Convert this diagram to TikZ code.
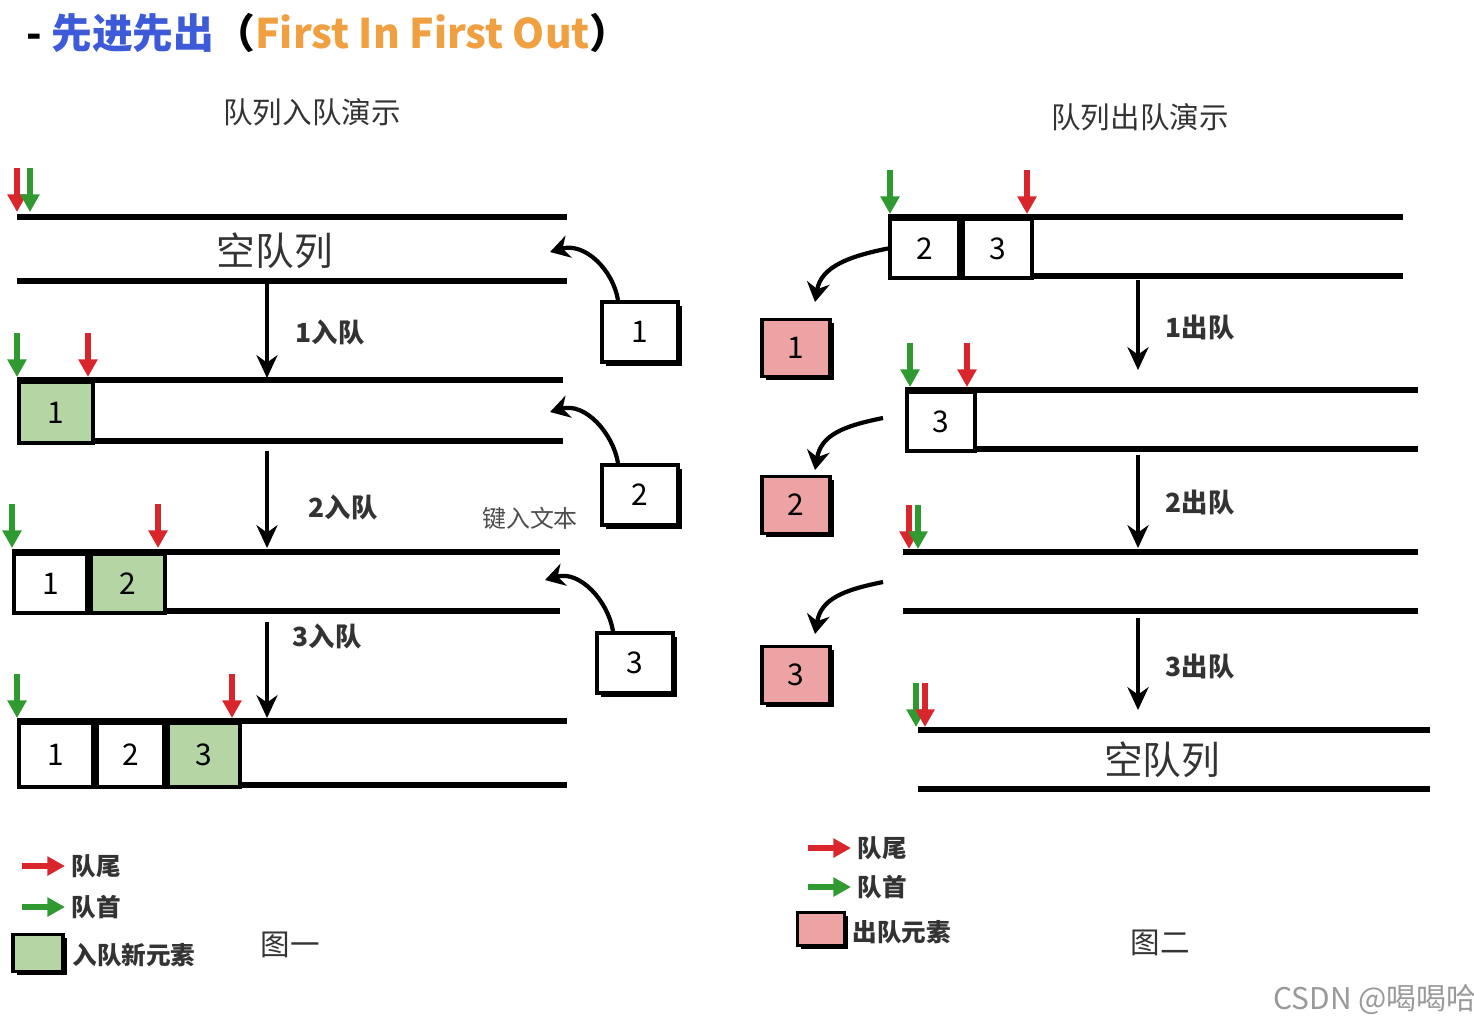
\documentclass[tikz,border=0pt]{standalone}
\usepackage{fontspec}
\setmainfont{Noto Sans CJK SC}
\usetikzlibrary{arrows.meta,positioning,calc,shadows}
\definecolor{qred}{HTML}{D8262C}
\definecolor{qgreen}{HTML}{2F9A2F}
\definecolor{qnew}{HTML}{B5D5A5}
\definecolor{qout}{HTML}{EDA2A3}
\definecolor{qblue}{HTML}{3D5BD9}
\definecolor{qorange}{HTML}{F0A041}
\definecolor{qdark}{HTML}{333333}

\begin{document}
\begin{tikzpicture}[x=0.01cm,y=-0.01cm,
  qline/.style={line width=1.5pt},
  cell/.style={draw,line width=1.1pt,inner sep=0pt,anchor=north west,font=\fontsize{8.5}{9}\selectfont},
  elem/.style={draw,fill=white,line width=1.1pt,inner sep=0pt,minimum width=0.76cm,minimum height=0.6cm,
    font=\fontsize{8.5}{9}\selectfont,drop shadow={shadow xshift=1.1pt,shadow yshift=-1.1pt,opacity=1,fill=black}},
  outbox/.style={elem,fill=qout,minimum width=0.68cm,minimum height=0.57cm},
  ptr/.style={line width=1.6pt,-{Triangle[width=5.2pt,length=5pt]}},
  move/.style={line width=1pt,-{Stealth[width=6pt,length=6.5pt]}},
  hop/.style={line width=1.2pt,-{Stealth[width=6.5pt,length=5.5pt]}},
  ttl/.style={font=\fontsize{8.4}{10}\selectfont,text=qdark},
  steplbl/.style={font=\bfseries\fontsize{7.5}{9}\selectfont,text=qdark,anchor=west,inner sep=0pt},
  lgd/.style={font=\bfseries\fontsize{7}{8}\selectfont,text=qdark,anchor=west,inner sep=0.5pt},
  emptylbl/.style={font=\fontsize{11}{12}\selectfont,text=qdark}]
\useasboundingbox (0,0) rectangle (1474,1026);

% heading
\node[anchor=west,font=\bfseries\fontsize{11.6}{14}\selectfont] (head) at (14,33)
  {- \textcolor{qblue}{先进先出}（\textcolor{qorange}{First In First Out}）};
\node[ttl] (tin) at (312,112) {队列入队演示};
\node[ttl] (tout) at (1140,117) {队列出队演示};

% queue walls
\foreach \xa/\xb/\ya/\yb in {17/567/217/281, 17/563/380/441, 12/560/552/611, 17/567/721/785,
  888/1403/217/276, 905/1418/390/449, 903/1418/552/611, 918/1430/730/789} {
  \draw[qline] (\xa,\ya) -- (\xb,\ya);
  \draw[qline] (\xa,\yb) -- (\xb,\yb);
}
\node[emptylbl] (e0) at (275,251) {空队列};
\node[emptylbl] (e4) at (1162,760) {空队列};

% enqueue cells
\node[cell,fill=qnew,minimum width=0.74cm,minimum height=0.61cm] (c11) at (17,380) {1};
\node[cell,fill=white,minimum width=0.73cm,minimum height=0.59cm] (c21) at (12,552) {1};
\node[cell,fill=qnew,minimum width=0.74cm,minimum height=0.59cm,right=0pt of c21] (c22) {2};
\node[cell,fill=white,minimum width=0.74cm,minimum height=0.64cm] (c31) at (17,721) {1};
\node[cell,fill=white,minimum width=0.67cm,minimum height=0.64cm,right=0pt of c31] (c32) {2};
\node[cell,fill=qnew,minimum width=0.72cm,minimum height=0.64cm,right=0pt of c32] (c33) {3};

% dequeue cells
\node[cell,fill=white,minimum width=0.69cm,minimum height=0.59cm] (a1) at (888,217) {2};
\node[cell,fill=white,minimum width=0.69cm,minimum height=0.59cm,right=0pt of a1] (a2) {3};
\node[cell,fill=white,minimum width=0.68cm,minimum height=0.59cm] (b1) at (905,390) {3};

% head and tail pointers
\foreach \n/\x/\y/\c in {r0/17/212/qred, g0/30/212/qgreen, g1/17/377/qgreen, r1/88/377/qred,
  g2/12/548/qgreen, r2/158/548/qred, g3/17/718/qgreen, r3/232/718/qred,
  ga/890/214/qgreen, ra/1027/214/qred, gb/910/387/qgreen, rb/967/387/qred,
  rc/909/549/qred, gc/918/549/qgreen, gd/916/727/qgreen, rd/925/727/qred} {
  \coordinate (p\n) at (\x,\y);
  \draw[ptr,\c] ([yshift=0.44cm]p\n) -- (p\n);
}

% step arrows
\foreach \n/\x/\ya/\yb/\lx/\ly/\t in {1/267/283/378/295/332/{1入队}, 2/267/451/548/308/507/{2入队},
  3/267/622/718/292/636/{3入队}, 4/1138/280/370/1165/328/{1出队}, 5/1138/455/548/1165/503/{2出队},
  6/1138/618/710/1165/667/{3出队}} {
  \coordinate (ds\n) at (\x,\ya);
  \coordinate (de\n) at (\x,\yb);
  \draw[move] (ds\n) -- (de\n);
  \node[steplbl] (sl\n) at (\lx,\ly) {\t};
}

% new elements
\node[elem] (n1) at (640,332) {1};
\node[elem] (n2) at (640,495) {2};
\node[elem] (n3) at (635,663) {3};
\coordinate (in1) at (550,252);
\coordinate (in2) at (550,412);
\coordinate (in3) at (545,580);
\foreach \i in {1,2,3}
  \draw[hop] ([xshift=-0.22cm]n\i.north) .. controls +(-5,-30) and +(35,-10) .. (in\i);
\node[font=\fontsize{6.8}{8}\selectfont,text=black!70] (typing) at (530,518) {键入文本};

% removed elements
\node[outbox] (o1) at (796,348) {1};
\node[outbox] (o2) at (796,505) {2};
\node[outbox] (o3) at (796,675) {3};
\coordinate (s1) at (a1.west);
\coordinate (s2) at (883,418);
\coordinate (s3) at (883,582);
\coordinate (t1) at (815,302);
\coordinate (t2) at (815,470);
\coordinate (t3) at (815,634);
\foreach \i in {1,2,3}
  \draw[hop] (s\i) .. controls +(-40,8) and +(6,-35) .. (t\i);

% legends
\foreach \n/\x/\y/\c/\t in {lr/22/866/qred/队尾, lg/22/907/qgreen/队首, mr/808/848/qred/队尾, mg/808/887/qgreen/队首} {
  \coordinate (\n) at (\x,\y);
  \draw[ptr,\c] (\n) -- ++(43,0) coordinate (\n e);
  \node[lgd] (\n t) at ([xshift=0.04cm]\n e) {\t};
}
\node[elem,fill=qnew,minimum width=0.5cm,minimum height=0.37cm] (kn) at (38,953) {};
\node[lgd] (knt) at (70,955) {入队新元素};
\node[elem,fill=qout,minimum width=0.47cm,minimum height=0.33cm] (ko) at (821,929) {};
\node[lgd] (kot) at (850,932) {出队元素};
\node[font=\fontsize{8.4}{10}\selectfont,text=qdark] (f1) at (290,945) {图一};
\node[font=\fontsize{8.4}{10}\selectfont,text=qdark] (f2) at (1160,943) {图二};
\node[font=\fontsize{8.5}{10}\selectfont,text=black!40] (mark) at (1375,1000) {CSDN @喝喝哈};
\end{tikzpicture}
\end{document}
